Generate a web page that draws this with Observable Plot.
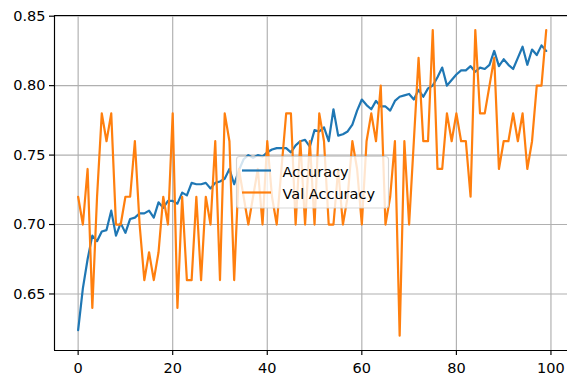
<!DOCTYPE html>
<html>
<head>
<meta charset="utf-8">
<script src="https://cdn.jsdelivr.net/npm/d3@7"></script>
<script src="https://cdn.jsdelivr.net/npm/@observablehq/plot@0.6"></script>
<style>
html,body{margin:0;padding:0;background:#fff;overflow:hidden}
</style>
</head>
<body>
<div id="chart"></div>
<script>
const seriesNames = ["Accuracy", "Val Accuracy"];
const seriesColors = ["#1f77b4", "#ff7f0e"];

const accuracy = [
  0.624, 0.654, 0.675, 0.692, 0.688, 0.695, 0.696, 0.710, 0.692, 0.701,
  0.694, 0.704, 0.705, 0.708, 0.708, 0.710, 0.705, 0.716, 0.712, 0.717,
  0.717, 0.715, 0.723, 0.721, 0.730, 0.729, 0.729, 0.730, 0.726, 0.730,
  0.731, 0.733, 0.740, 0.729, 0.739, 0.747, 0.750, 0.748, 0.750, 0.749,
  0.752, 0.754, 0.755, 0.755, 0.755, 0.752, 0.757, 0.760, 0.761, 0.756,
  0.768, 0.767, 0.770, 0.760, 0.783, 0.764, 0.765, 0.767, 0.772, 0.782,
  0.790, 0.786, 0.783, 0.789, 0.785, 0.785, 0.782, 0.789, 0.792, 0.793,
  0.794, 0.790, 0.797, 0.792, 0.798, 0.800, 0.806, 0.813, 0.800, 0.804,
  0.808, 0.811, 0.811, 0.814, 0.810, 0.813, 0.812, 0.815, 0.825, 0.814,
  0.819, 0.815, 0.812, 0.820, 0.828, 0.815, 0.826, 0.822, 0.829, 0.825
];

const valAccuracy = [
  0.72, 0.70, 0.74, 0.64, 0.72, 0.78, 0.76, 0.78, 0.70, 0.70,
  0.72, 0.72, 0.76, 0.70, 0.66, 0.68, 0.66, 0.68, 0.72, 0.70,
  0.78, 0.64, 0.72, 0.66, 0.66, 0.72, 0.66, 0.72, 0.70, 0.76,
  0.66, 0.78, 0.76, 0.66, 0.74, 0.72, 0.70, 0.72, 0.74, 0.70,
  0.76, 0.72, 0.70, 0.74, 0.78, 0.78, 0.70, 0.76, 0.70, 0.76,
  0.70, 0.78, 0.76, 0.70, 0.70, 0.74, 0.70, 0.72, 0.76, 0.74,
  0.70, 0.76, 0.78, 0.76, 0.80, 0.70, 0.72, 0.76, 0.62, 0.76,
  0.70, 0.76, 0.82, 0.76, 0.76, 0.84, 0.74, 0.74, 0.78, 0.76,
  0.78, 0.76, 0.76, 0.72, 0.84, 0.78, 0.78, 0.80, 0.82, 0.74,
  0.76, 0.76, 0.78, 0.76, 0.78, 0.74, 0.76, 0.80, 0.80, 0.84
];

const xTicks = [0, 20, 40, 60, 80, 100];
const yTicks = [0.65, 0.70, 0.75, 0.80, 0.85];

const xDomain = [-5.0, 103.5];
const yDomain = [0.6093, 0.8505];

const rows = accuracy.map((a, i) => ({epoch: i, acc: a, val: valAccuracy[i]}));

const FONT = "DejaVu Sans, sans-serif";
const FS = 14.5;

const chart = Plot.plot({
  width: 567,
  height: 379,
  marginLeft: 54,
  marginRight: 0,
  marginTop: 15,
  marginBottom: 29,
  style: {fontFamily: FONT, fontSize: FS + "px", color: "black", background: "white", overflow: "visible"},
  x: {domain: xDomain},
  y: {domain: yDomain},
  marks: [
    Plot.gridX(xTicks, {stroke: "#b0b0b0", strokeOpacity: 1, strokeWidth: 1.16}),
    Plot.gridY(yTicks, {stroke: "#b0b0b0", strokeOpacity: 1, strokeWidth: 1.16}),
    Plot.line(rows, {x: "epoch", y: "acc", stroke: seriesColors[0], strokeWidth: 2.2}),
    Plot.line(rows, {x: "epoch", y: "val", stroke: seriesColors[1], strokeWidth: 2.2}),
    Plot.ruleY([yDomain[0], yDomain[1]], {stroke: "black", strokeWidth: 1.16}),
    Plot.ruleX([xDomain[0]], {stroke: "black", strokeWidth: 1.16}),
    Plot.axisX({ticks: xTicks, tickSize: 5, tickPadding: 7.5, strokeWidth: 1.16, label: null, fill: "black"}),
    Plot.axisY({ticks: yTicks, tickFormat: d3.format(".2f"), tickSize: 5, tickPadding: 4, strokeWidth: 1.16, label: null, fill: "black"})
  ]
});

document.getElementById("chart").appendChild(chart);

// Legend (matplotlib style box)
const svg = d3.select(chart);
const lg = svg.append("g").attr("text-anchor", "start");
lg.append("rect")
  .attr("x", 236.5).attr("y", 156.5)
  .attr("width", 152).attr("height", 51.5)
  .attr("rx", 3).attr("ry", 3)
  .attr("fill", "white").attr("fill-opacity", 0.8)
  .attr("stroke", "#cccccc").attr("stroke-opacity", 0.8)
  .attr("stroke-width", 1.16);
const rowsY = [170.5, 192.5];
seriesNames.forEach((name, k) => {
  lg.append("line")
    .attr("x1", 242).attr("x2", 271)
    .attr("y1", rowsY[k]).attr("y2", rowsY[k])
    .attr("stroke", seriesColors[k]).attr("stroke-width", 2.2);
  lg.append("text")
    .attr("x", 282.5).attr("y", rowsY[k] + 1)
    .attr("dy", "0.35em")
    .attr("text-anchor", "start")
    .attr("font-family", FONT).attr("font-size", FS)
    .attr("fill", "black")
    .text(name);
});
</script>
</body>
</html>
